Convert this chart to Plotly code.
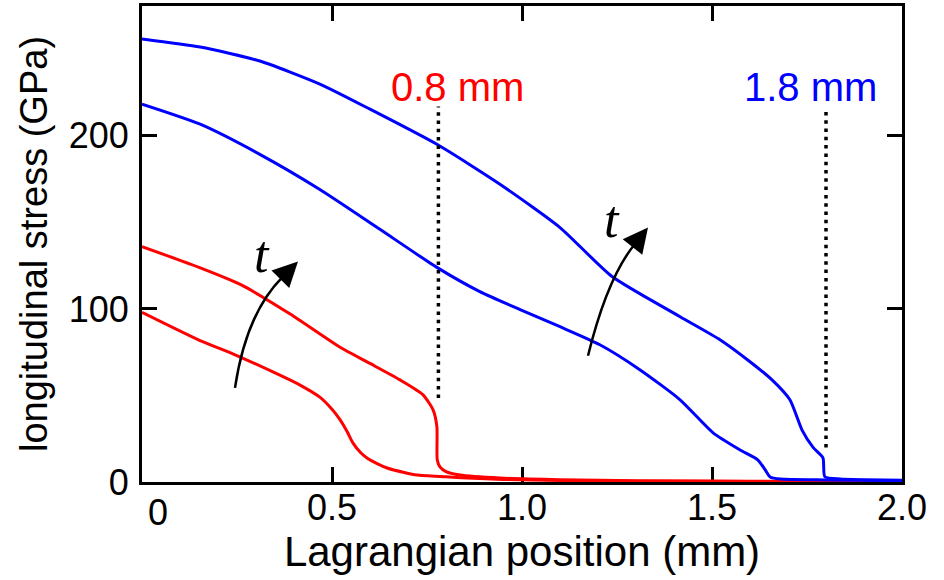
import plotly.graph_objects as go

# ---- data ----
red_early_x = [0, 0.15, 0.245, 0.36, 0.416, 0.468, 0.50, 0.521, 0.54, 0.555, 0.575, 0.592, 0.62, 0.645, 0.69, 0.724, 0.80, 0.855, 0.95, 1.1, 1.3, 1.6, 2.0]
red_early_y = [98, 82, 73.5, 62, 56, 49, 42, 36, 29, 22.6, 17, 13.9, 10.5, 8.1, 5.5, 4, 3, 2.3, 1.5, 0.9, 0.5, 0.3, 0.2]

red_late_x = [0, 0.15, 0.26, 0.39, 0.52, 0.6, 0.679, 0.739, 0.766, 0.776, 0.777, 0.784, 0.80, 0.837, 0.942, 1.1, 1.3, 1.6, 2.0]
red_late_y = [136, 124, 114, 97, 78, 68.5, 59, 50.5, 41.7, 32, 12.7, 8.7, 6, 4, 2.3, 1.3, 0.7, 0.4, 0.2]

blue_early_x = [0, 0.153, 0.31, 0.468, 0.626, 0.776, 0.889, 0.995, 1.1, 1.205, 1.31, 1.416, 1.503, 1.574, 1.621, 1.64, 1.653, 1.68, 1.8, 2.0]
blue_early_y = [218.3, 206.7, 189.3, 169, 146, 124, 110, 99.6, 89.7, 79.3, 64.9, 47.5, 28.4, 18.5, 12.7, 7, 2.9, 1.7, 1.2, 0.8]

blue_late_x = [0, 0.153, 0.31, 0.468, 0.6, 0.776, 0.942, 1.1, 1.237, 1.416, 1.521, 1.6, 1.658, 1.705, 1.737, 1.766, 1.792, 1.797, 1.837, 2.0]
blue_late_y = [256, 251.3, 243.2, 229.9, 215.4, 195.1, 172, 147, 118.7, 95.5, 82.2, 69.5, 59, 47.5, 30, 20, 14, 3, 1.7, 1.0]

front_red_x = [0.78, 0.78]
front_red_y = [48.6, 217]
front_blue_x = [1.8, 1.8]
front_blue_y = [20, 214]

x_tickvals = [0, 0.5, 1.0, 1.5, 2.0]
x_ticktext = ["", "0.5", "1.0", "1.5", "2.0"]
y_tickvals = [0, 100, 200]
y_ticktext = ["0", "100", "200"]

RED = "#ff0000"
BLUE = "#0000ff"
FONT = "Liberation Sans, Arial, sans-serif"

fig = go.Figure()
for xs, ys, c in [(red_early_x, red_early_y, RED), (red_late_x, red_late_y, RED),
                  (blue_early_x, blue_early_y, BLUE), (blue_late_x, blue_late_y, BLUE)]:
    fig.add_trace(go.Scatter(x=xs, y=ys, mode="lines",
                             line=dict(color=c, width=3, shape="spline", smoothing=0.6),
                             hoverinfo="skip"))

for xs, ys in [(front_red_x, front_red_y), (front_blue_x, front_blue_y)]:
    fig.add_trace(go.Scatter(x=xs, y=ys, mode="lines",
                             line=dict(color="black", width=3.5, dash="3.5px,4.8px"), hoverinfo="skip"))

# curved time arrows (quadratic curves + arrowheads)
arrows = [
    dict(tail=(0.2447, 54.4), ctrl=(0.274, 97.2), tip=(0.4105, 127.4), base=(0.3684, 118.1)),
    dict(tail=(1.1737, 72.96), ctrl=(1.2237, 117.5), tip=(1.3316, 147.1), base=(1.2955, 137.1)),
]
for a in arrows:
    (x0, y0), (cx, cy), (x1, y1) = a["tail"], a["ctrl"], a["base"]
    fig.add_shape(type="path", xref="x", yref="y",
                  path=f"M {x0},{y0} Q {cx},{cy} {x1},{y1}",
                  line=dict(color="black", width=2.5))
    fig.add_annotation(x=a["tip"][0], y=a["tip"][1], ax=a["base"][0], ay=a["base"][1],
                       xref="x", yref="y", axref="x", ayref="y", text="",
                       showarrow=True, arrowhead=2, arrowsize=2.0, arrowwidth=2.5,
                       arrowcolor="black", standoff=0, startstandoff=0)

for tx, ty in [(0.316, 131.4), (1.237, 151.7)]:
    fig.add_annotation(x=tx, y=ty, xref="x", yref="y", text="<i>t</i>", showarrow=False,
                       font=dict(family="Liberation Serif, Times New Roman, serif", size=52, color="black"))

fig.add_annotation(x=0.83, y=228, xref="x", yref="y", text="0.8 mm", showarrow=False,
                   font=dict(family=FONT, size=40, color=RED))
fig.add_annotation(x=1.758, y=228, xref="x", yref="y", text="1.8 mm", showarrow=False,
                   font=dict(family=FONT, size=40, color=BLUE))

# shifted "0" label on the x axis
fig.add_annotation(x=0, y=0, xref="x", yref="paper", text="0", showarrow=False,
                   xshift=16, yshift=-8, yanchor="top",
                   font=dict(family=FONT, size=36, color="black"))

axis_common = dict(showline=True, linecolor="black", linewidth=3, mirror="allticks",
                   ticks="inside", ticklen=15, tickwidth=3, tickcolor="black",
                   showgrid=False, zeroline=False, layer="below traces", automargin=False,
                   tickfont=dict(family=FONT, size=36, color="black"))

fig.update_layout(
    width=944, height=580,
    margin=dict(l=142, r=42, t=6, b=98),
    plot_bgcolor="white", paper_bgcolor="white",
    showlegend=False,
    xaxis=dict(range=[0, 2.0], tickvals=x_tickvals, ticktext=x_ticktext,
               title=dict(text="Lagrangian position (mm)", font=dict(family=FONT, size=42, color="black"),
                          standoff=4),
               ticklabelstandoff=-8, **axis_common),
    yaxis=dict(range=[0, 275], tickvals=y_tickvals, ticktext=y_ticktext,
               title=dict(text="longitudinal stress (GPa)", font=dict(family=FONT, size=38, color="black"),
                          standoff=10),
               ticklabelstandoff=3, **axis_common),
)

fig.write_html("out.html", config={"displayModeBar": False},
               post_script="document.body.style.margin='0';document.body.style.overflow='hidden';")
